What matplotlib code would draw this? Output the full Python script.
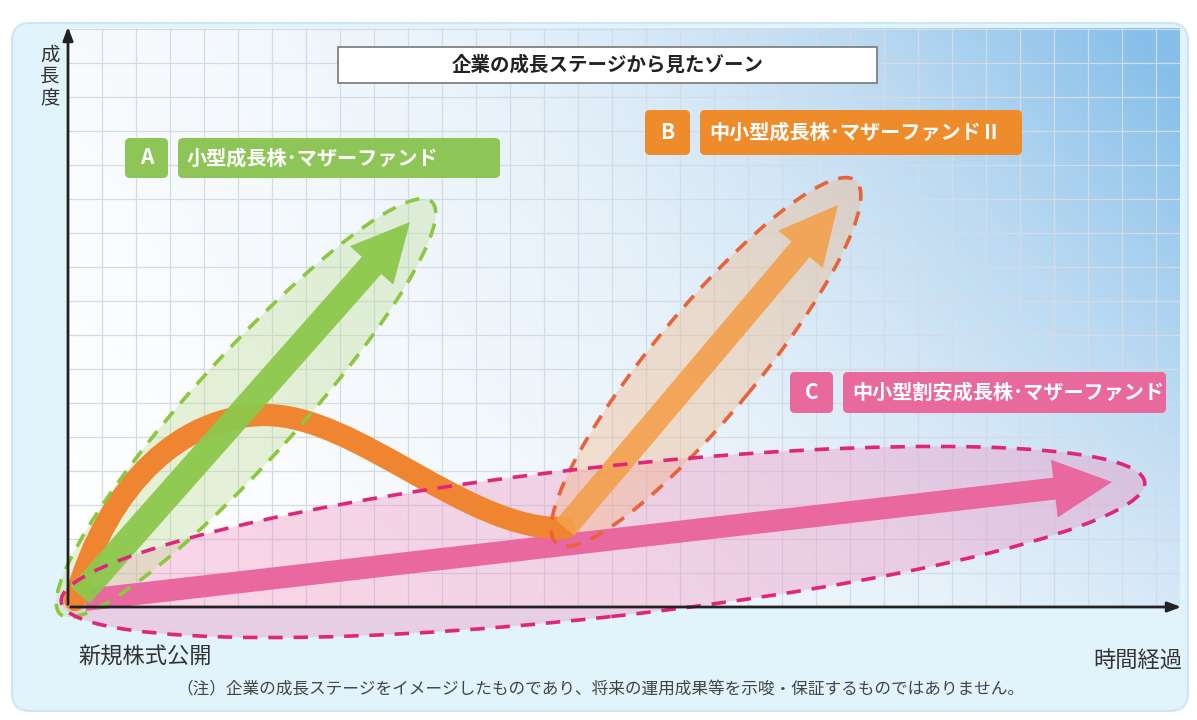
import numpy as np
import matplotlib
matplotlib.use('Agg')
import matplotlib.pyplot as plt
from matplotlib.patches import Ellipse, FancyBboxPatch, FancyArrow, PathPatch
from matplotlib.path import Path
from matplotlib.colors import LinearSegmentedColormap

plt.rcParams['font.family'] = ['Noto Sans CJK JP', 'DejaVu Sans']

# axis extents (time, growth) in chart units
x_max = 1112
y_max = 579
grid_step = 34

title = '企業の成長ステージから見たゾーン'
y_label = '成長度'
x_start_label = '新規株式公開'
x_end_label = '時間経過'
note = '（注）企業の成長ステージをイメージしたものであり、将来の運用成果等を示唆・保証するものではありません。'

zone_keys = ['A', 'B', 'C']
zone_names = ['小型成長株･マザーファンド', '中小型成長株･マザーファンドⅡ', '中小型割安成長株･マザーファンド']
zone_colors = ['#8dc556', '#ee8b2b', '#e8699b']
zone_edge = ['#8dc63f', '#e8623a', '#e0267a']
zone_fill = ['#bcdc8f', '#f3b27a', '#f08cbc']
# label boxes: key box x0, name box x0, x1, y0, y1
key_x0 = [57, 577, 722]
name_x0 = [110, 632, 775]
name_x1 = [432, 954, 1098]
label_y0 = [429, 452, 194]
label_y1 = [469, 497, 235]

# zone ellipses: center x, center y, length, thickness, angle
ell_cx = [178, 638, 535]
ell_cy = [199, 245, 65]
ell_w = [555, 470, 1090]
ell_h = [105, 105, 150]
ell_ang = [48, 50.5, 6.3]

# arrows: start, end
arr_x0 = [12, 497, 17]
arr_y0 = [12, 79, 7]
arr_x1 = [342, 770, 1044]
arr_y1 = [385, 402, 125]
arr_colors = ['#8cc84b', '#f4a04c', '#e8689f']

# orange growth curve (bezier anchors & controls)
curve_x = [7, 40, 115, 197, 290, 400, 497]
curve_y = [7, 125, 192, 192, 192, 75, 79]

fig = plt.figure(figsize=(11.97, 7.2), dpi=100)
fig.patch.set_facecolor('white')
ax = fig.add_axes([0, 0, 1, 1])
ax.set_xlim(-68, 1129)
ax.set_ylim(-113, 607)
ax.axis('off')

# outer panel
ax.add_patch(FancyBboxPatch((-56, -104), 1176, 688, boxstyle='round,pad=0,rounding_size=18',
                            fc='#e1f3fb', ec='#cbe7f4', lw=1.5, zorder=0))

# gradient background
gx, gy = np.meshgrid(np.linspace(0, 1, 300), np.linspace(0, 1, 200))
t = np.clip(0.9 * gx ** 1.5 * (0.45 + 0.55 * gy) + 0.1 * gy + 0.05 * gx, 0, 1)
cmap = LinearSegmentedColormap.from_list('bg', ['#ffffff', '#e6f1fa', '#bcdaf2', '#86bfe9'])
ax.imshow(t, extent=[0, x_max, 0, y_max], origin='lower', cmap=cmap, aspect='auto', zorder=1)

# grid
ax.vlines(np.arange(grid_step, x_max, grid_step), 0, y_max, color='#d3dce6', lw=0.9, zorder=2)
ax.hlines(np.arange(grid_step, y_max, grid_step), 0, x_max, color='#d3dce6', lw=0.9, zorder=2)

# ellipse fills
for i in [2, 0, 1]:
    ax.add_patch(Ellipse((ell_cx[i], ell_cy[i]), ell_w[i], ell_h[i], angle=ell_ang[i],
                         fc=zone_fill[i], ec='none', alpha=0.35, zorder=3))


def arrow(i, z, w=24, hw=58, hl=58, alpha=1.0):
    dx = arr_x1[i] - arr_x0[i]
    dy = arr_y1[i] - arr_y0[i]
    ax.add_patch(FancyArrow(arr_x0[i], arr_y0[i], dx, dy, width=w, head_width=hw, head_length=hl,
                            length_includes_head=True, fc=arr_colors[i], ec='none', alpha=alpha, zorder=z))


# pink arrow
arrow(2, 4, w=22)

# orange curve + arrow
verts = list(zip(curve_x, curve_y))
codes = [Path.MOVETO] + [Path.CURVE4] * 6
ax.add_patch(PathPatch(Path(verts, codes), fc='none', ec='#ef8530', lw=16, capstyle='round', zorder=5))
arrow(1, 5, w=24, alpha=0.9)

# green arrow
arrow(0, 6, w=26, alpha=0.95)

# dashed ellipse edges
for i in range(3):
    ax.add_patch(Ellipse((ell_cx[i], ell_cy[i]), ell_w[i], ell_h[i], angle=ell_ang[i],
                         fc='none', ec=zone_edge[i], lw=2.6, ls=(0, (4, 3)), zorder=7))

# axes arrows
ax.annotate('', xy=(0, y_max + 4), xytext=(0, 0),
            arrowprops=dict(arrowstyle='-|>,head_length=0.8,head_width=0.3', color='#222222', lw=2), zorder=8)
ax.annotate('', xy=(x_max + 4, 0), xytext=(0, 0),
            arrowprops=dict(arrowstyle='-|>,head_length=0.8,head_width=0.3', color='#222222', lw=2), zorder=8)

# title box
ax.add_patch(FancyBboxPatch((270, 524), 539, 36, boxstyle='square,pad=0', fc='white', ec='#777777', lw=1.2, zorder=8))
ax.text(539.5, 542, title, ha='center', va='center', fontsize=14, fontweight='bold', color='#222222', zorder=9)

# zone labels
for i in range(3):
    ax.add_patch(FancyBboxPatch((key_x0[i], label_y0[i]), name_x0[i] - key_x0[i] - 10, label_y1[i] - label_y0[i],
                                boxstyle='round,pad=0,rounding_size=5', fc=zone_colors[i], ec='none', zorder=8))
    ax.add_patch(FancyBboxPatch((name_x0[i], label_y0[i]), name_x1[i] - name_x0[i], label_y1[i] - label_y0[i],
                                boxstyle='round,pad=0,rounding_size=5', fc=zone_colors[i], ec='none', zorder=8))
    ym = (label_y0[i] + label_y1[i]) / 2
    ax.text((key_x0[i] + name_x0[i] - 10) / 2, ym, zone_keys[i], ha='center', va='center',
            fontsize=15, fontweight='bold', color='white', zorder=9)
    ax.text(name_x0[i] + 9, ym, zone_names[i], ha='left', va='center',
            fontsize=14.5, fontweight='bold', color='white', zorder=9)

# axis labels
ax.text(-18, 562, '\n'.join(y_label), ha='center', va='top', fontsize=14, color='#333333', linespacing=1.0, zorder=9)
ax.text(10, -50, x_start_label, ha='left', va='center', fontsize=16, color='#333333', zorder=9)
ax.text(1114, -53, x_end_label, ha='right', va='center', fontsize=16, color='#333333', zorder=9)
ax.text(532, -83, note, ha='center', va='center', fontsize=12, color='#444444', zorder=9)

fig.savefig('out.png', dpi=100)
